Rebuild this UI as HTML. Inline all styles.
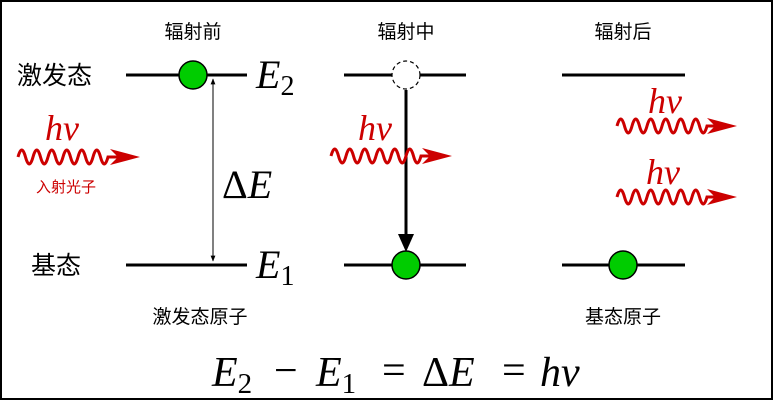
<!DOCTYPE html>
<html><head><meta charset="utf-8"><style>
body{margin:0;background:#fff;}
svg{display:block}
.cn{font-family:"Liberation Sans","Noto Sans CJK SC",sans-serif;}
.m{font-family:"Liberation Serif",serif;font-style:italic;}
</style></head><body>
<svg width="773" height="402" viewBox="0 0 773 402" xmlns="http://www.w3.org/2000/svg">
<defs>
<marker id="ah" viewBox="0 0 10 10" refX="9" refY="5" markerWidth="6" markerHeight="6" orient="auto-start-reverse"><path d="M0,1 L10,5 L0,9 z" fill="#000"/></marker>
</defs>
<rect x="1" y="1" width="771" height="398" fill="#fff" stroke="#000" stroke-width="2"/>
<g class="cn" font-size="19" text-anchor="middle" fill="#000">
<text x="193" y="38">辐射前</text><text x="406" y="38">辐射中</text><text x="623" y="38">辐射后</text>
<text x="200" y="323">激发态原子</text><text x="623" y="323">基态原子</text>
</g>
<g class="cn" font-size="25" fill="#000"><text x="17" y="84">激发态</text><text x="31" y="274">基态</text></g>
<g stroke="#000" stroke-width="3">
<line x1="126" y1="75" x2="247" y2="75"/><line x1="126" y1="265" x2="247" y2="265"/>
<line x1="344" y1="75" x2="466" y2="75"/><line x1="344" y1="265" x2="466" y2="265"/>
<line x1="562" y1="75" x2="685" y2="75"/><line x1="562" y1="265" x2="685" y2="265"/>
</g>
<line x1="213" y1="79" x2="213" y2="261" stroke="#000" stroke-width="1" marker-start="url(#ah)" marker-end="url(#ah)"/>
<circle cx="193" cy="75" r="14" fill="#00cc00" stroke="#000" stroke-width="1.5"/>
<circle cx="406" cy="75" r="14" fill="#fff" stroke="#000" stroke-width="1.2" stroke-dasharray="4,3"/>
<line x1="406" y1="90" x2="406" y2="240" stroke="#000" stroke-width="3"/>
<path d="M398,234 L414,234 L406,252 z" fill="#000"/>
<circle cx="406" cy="265" r="14" fill="#00cc00" stroke="#000" stroke-width="1.5"/>
<circle cx="623" cy="265" r="14" fill="#00cc00" stroke="#000" stroke-width="1.5"/>
<g fill="none" stroke="#cc0000" stroke-width="3">
<path d="M18,157 q3.75,-14 7.5,0 t7.5,0 t7.5,0 t7.5,0 t7.5,0 t7.5,0 t7.5,0 t7.5,0 t7.5,0 t7.5,0 t7.5,0 t7.5,0 l18,0"/>
<path d="M331,156 q3.75,-14 7.5,0 t7.5,0 t7.5,0 t7.5,0 t7.5,0 t7.5,0 t7.5,0 t7.5,0 t7.5,0 t7.5,0 t7.5,0 t7.5,0 l18,0"/>
<path d="M617,126 q3.75,-14 7.5,0 t7.5,0 t7.5,0 t7.5,0 t7.5,0 t7.5,0 t7.5,0 t7.5,0 t7.5,0 t7.5,0 t7.5,0 t7.5,0 l18,0"/>
<path d="M617,197 q3.75,-14 7.5,0 t7.5,0 t7.5,0 t7.5,0 t7.5,0 t7.5,0 t7.5,0 t7.5,0 t7.5,0 t7.5,0 t7.5,0 t7.5,0 l18,0"/>
</g>
<g fill="#cc0000">
<path d="M110,149 L140,157 L110,165 L118,157 z"/>
<path d="M422,148 L452,156 L422,164 L430,156 z"/>
<path d="M707,118 L737,126 L707,134 L715,126 z"/>
<path d="M707,189 L737,197 L707,205 L715,197 z"/>
</g>
<g class="m" font-size="36" fill="#cc0000">
<text x="45" y="140">hν</text><text x="358" y="140">hν</text>
<text x="648" y="113">hν</text><text x="646" y="184">hν</text>
</g>
<text class="cn" x="66" y="192" font-size="15" fill="#cc0000" text-anchor="middle">入射光子</text>
<g class="m" font-size="40" fill="#000">
<text x="256" y="88">E<tspan font-style="normal" font-size="28" dy="7">2</tspan></text>
<text x="256" y="278">E<tspan font-style="normal" font-size="28" dy="7">1</tspan></text>
<text x="222" y="198"><tspan font-style="normal">Δ</tspan>E</text>
</g>
<g class="m" font-size="42" fill="#000">
<text x="212" y="386">E<tspan font-style="normal" font-size="29" dy="7">2</tspan></text>
<text x="274" y="384" font-style="normal">−</text>
<text x="316" y="386">E<tspan font-style="normal" font-size="29" dy="7">1</tspan></text>
<text x="382" y="384" font-style="normal">=</text>
<text x="422" y="386"><tspan font-style="normal">Δ</tspan>E</text>
<text x="502" y="384" font-style="normal">=</text>
<text x="540" y="386">hν</text>
</g>
</svg>
</body></html>
